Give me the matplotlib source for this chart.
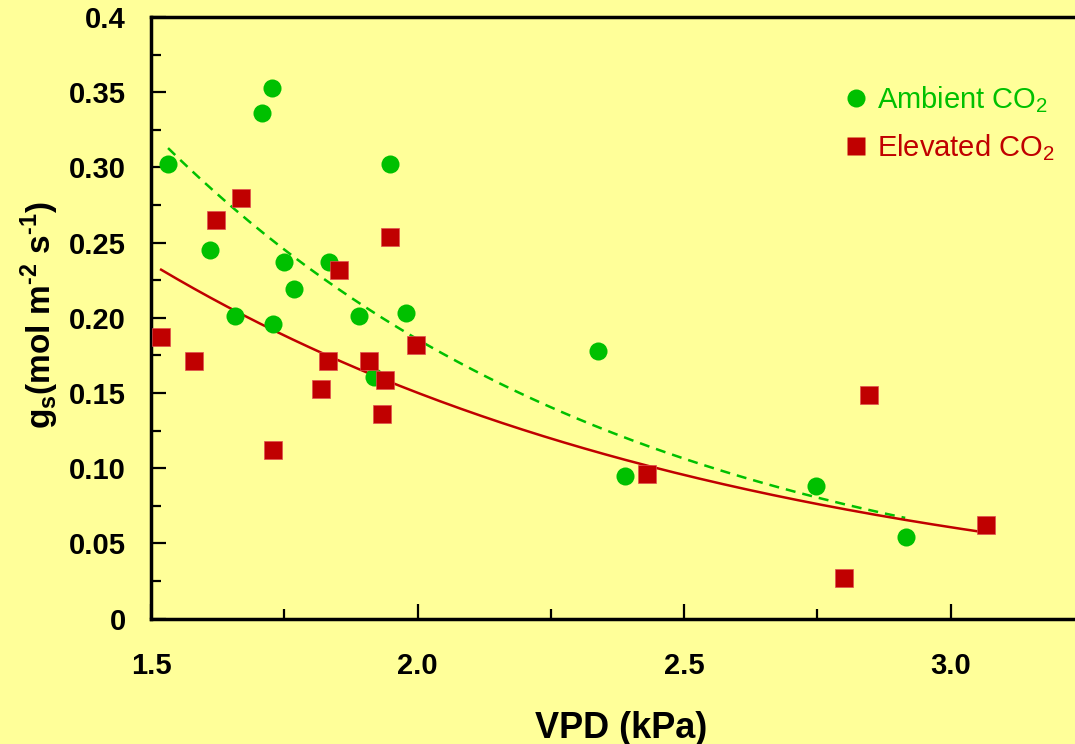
import numpy as np
import matplotlib
matplotlib.use("Agg")
import matplotlib.pyplot as plt
from matplotlib.ticker import FixedLocator, FixedFormatter, MultipleLocator
from matplotlib.lines import Line2D

plt.rcParams['font.family'] = ['Liberation Sans', 'DejaVu Sans']

# Ambient CO2 (VPD kPa, gs mol m-2 s-1)
amb_vpd = [1.532, 1.708, 1.727, 1.611, 1.658, 1.729, 1.750, 1.768, 1.834,
           1.890, 1.918, 1.948, 1.978, 2.339, 2.389, 2.748, 2.917]
amb_gs = [0.302, 0.336, 0.353, 0.245, 0.201, 0.196, 0.237, 0.219, 0.237,
          0.201, 0.161, 0.302, 0.203, 0.178, 0.095, 0.088, 0.054]

# Elevated CO2
elev_vpd = [1.519, 1.581, 1.622, 1.669, 1.729, 1.819, 1.832, 1.853, 1.909,
            1.933, 1.939, 1.948, 1.997, 2.431, 2.800, 2.847, 3.067]
elev_gs = [0.187, 0.171, 0.265, 0.280, 0.112, 0.153, 0.171, 0.232, 0.171,
           0.136, 0.159, 0.254, 0.182, 0.096, 0.027, 0.149, 0.062]

# exponential fits gs = a*exp(-b*VPD)
amb_fit = (1.724, 1.114)
amb_fit_range = (1.532, 2.915)
elev_fit = (0.916, 0.904)
elev_fit_range = (1.519, 3.052)

y_ticks = [0, 0.05, 0.10, 0.15, 0.20, 0.25, 0.30, 0.35, 0.4]
y_labels = ['0', '0.05', '0.10', '0.15', '0.20', '0.25', '0.30', '0.35', '0.4']
x_ticks = [1.5, 2.0, 2.5, 3.0]
x_labels = ['1.5', '2.0', '2.5', '3.0']

green = '#00C000'
red = '#C00000'
bg = '#FFFF99'

fig = plt.figure(figsize=(10.75, 7.44), dpi=100)
fig.patch.set_facecolor(bg)
ax = fig.add_axes([151 / 1075, 1 - 618.7 / 744, 1 - 151 / 1075, 601.7 / 744])
ax.set_facecolor(bg)

x_right = 1.5 + (1075 - 151) / 533.0
ax.set_xlim(1.5, x_right)
ax.set_ylim(0, 0.4)

# fit curves
xa = np.linspace(amb_fit_range[0], amb_fit_range[1], 200)
ax.plot(xa, amb_fit[0] * np.exp(-amb_fit[1] * xa), color=green, lw=1.8,
        dashes=(4, 2.8), zorder=2)
xe = np.linspace(elev_fit_range[0], elev_fit_range[1], 200)
ax.plot(xe, elev_fit[0] * np.exp(-elev_fit[1] * xe), color=red, lw=1.8, zorder=2)

ax.plot(amb_vpd, amb_gs, 'o', color=green, ms=13, mec='none', zorder=3, clip_on=False)
ax.plot(elev_vpd, elev_gs, 's', color=red, ms=13, mec='#E05050', mew=0.5, zorder=3, clip_on=False)

for s in ['left', 'bottom', 'top']:
    ax.spines[s].set_linewidth(2.5)
ax.spines['right'].set_visible(False)

ax.xaxis.set_major_locator(FixedLocator(x_ticks))
ax.xaxis.set_major_formatter(FixedFormatter(x_labels))
ax.xaxis.set_minor_locator(MultipleLocator(0.25))
ax.yaxis.set_major_locator(FixedLocator(y_ticks))
ax.yaxis.set_major_formatter(FixedFormatter(y_labels))
ax.yaxis.set_minor_locator(MultipleLocator(0.025))

ax.tick_params(which='major', direction='in', length=11, width=1.6,
               labelsize=21, top=False, right=False)
ax.tick_params(which='minor', direction='in', length=7, width=1.6,
               top=False, right=False)
ax.tick_params(axis='y', pad=18)
ax.tick_params(axis='x', pad=24)
for lab in ax.get_xticklabels() + ax.get_yticklabels():
    lab.set_fontweight('bold')

fig.text(621 / 1075, 1 - 728 / 744, 'VPD (kPa)', ha='center', va='center',
         fontsize=26, fontweight='bold')
fig.text(40 / 1075, 1 - 315 / 744,
         'g$_\\mathregular{s}$(mol m$^\\mathregular{\u20102}$ s$^\\mathregular{\u20101}$)',
         rotation=90, ha='center', va='center', fontsize=24, fontweight='bold')

handles = [Line2D([], [], marker='o', ls='none', color=green, ms=13, mec='none'),
           Line2D([], [], marker='s', ls='none', color=red, ms=13, mec='none')]
leg = ax.legend(handles, ['Ambient CO$_\\mathregular{2}$', 'Elevated CO$_\\mathregular{2}$'],
                loc='upper left', bbox_to_anchor=(841 / 1075, 1 - 84 / 744),
                bbox_transform=fig.transFigure, frameon=False, fontsize=21,
                handletextpad=0.25, handlelength=1.0, labelspacing=0.61,
                borderpad=0, borderaxespad=0, labelcolor=[green, red])

fig.savefig('out.png', dpi=100, facecolor=bg)
